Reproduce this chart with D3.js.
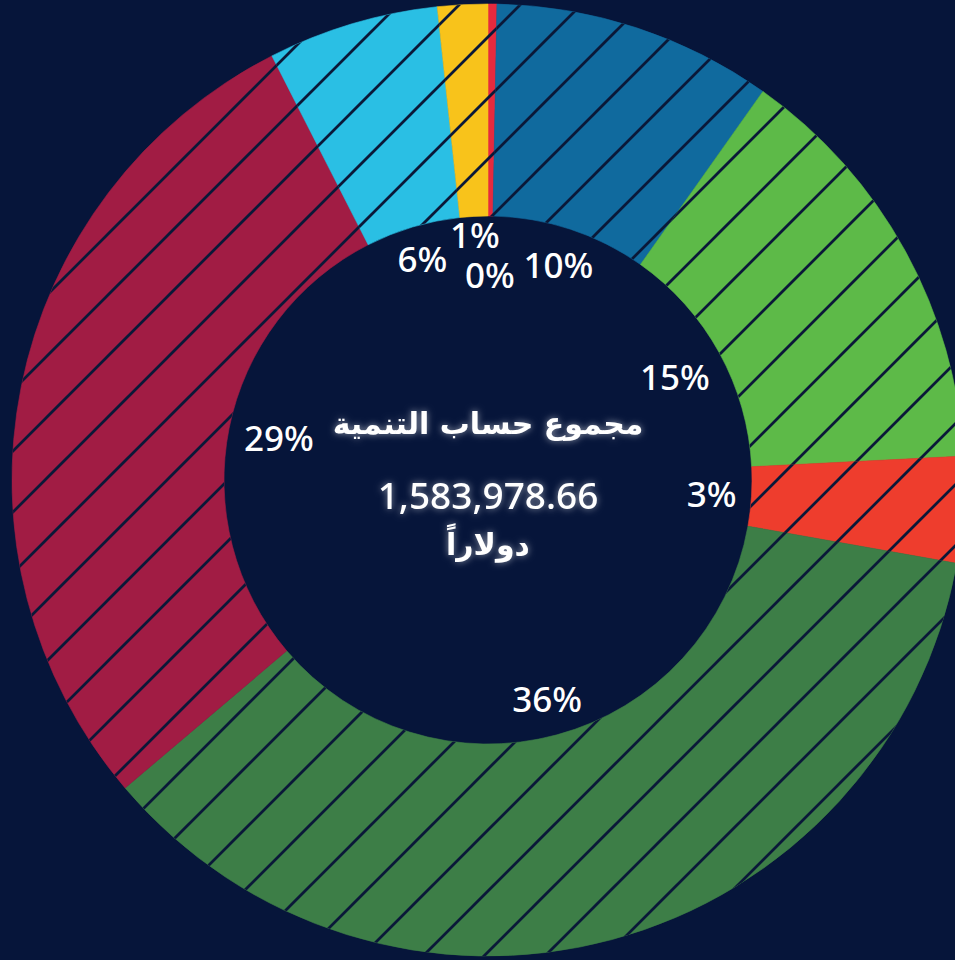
<!DOCTYPE html>
<html>
<head>
<meta charset="utf-8">
<script src="https://cdn.jsdelivr.net/npm/d3@7"></script>
<style>
  html, body { margin: 0; padding: 0; background: #06153a; overflow: hidden; }
</style>
</head>
<body>
<div id="donut-chart"></div>
<script>
// ---- data ----
const categories = ['s0', 's1', 's2', 's3', 's4', 's5', 's6', 's7'];
const shares = [0.3, 9.5, 14.4, 3.6, 36.0, 28.7, 5.8, 1.7];
const pctLabels = ['0%', '10%', '15%', '3%', '36%', '29%', '6%', '1%'];
const sliceColors = ['#e62a3e', '#106a9e', '#5dba48', '#ee3d2d', '#3d7e47', '#a11c44', '#2abfe4', '#f8c31b'];
const centerTitle = 'مجموع حساب التنمية';
const totalValue = 1583978.66;
const unitLabel = 'دولاراً';

const cfg = {
  width: 955,
  height: 960,
  cx: 488,
  cy: 480,
  outerR: 476,
  innerR: 264,
  bg: '#06153a',
  hatch: { step: 61, phase: 37, color: '#0a1838', width: 2.8 },
};

const svg = d3
  .select('#donut-chart')
  .append('svg')
  .attr('width', cfg.width)
  .attr('height', cfg.height);

svg.append('rect').attr('width', cfg.width).attr('height', cfg.height).attr('fill', cfg.bg);

const defs = svg.append('defs');

/* ---------------- hatch pattern ---------------- */
const st = cfg.hatch.step;
const localPhase = (((cfg.hatch.phase - cfg.cx - cfg.cy) % st) + st) % st;
defs
  .append('pattern')
  .attr('id', 'hatch')
  .attr('patternUnits', 'userSpaceOnUse')
  .attr('x', localPhase)
  .attr('y', 0)
  .attr('width', st)
  .attr('height', st)
  .append('path')
  .attr('d', `M0,${st}L${st},0M-5,5L5,-5M${st - 5},${st + 5}L${st + 5},${st - 5}`)
  .attr('stroke', cfg.hatch.color)
  .attr('stroke-width', cfg.hatch.width);

/* ---------------- glow filter ---------------- */
const glow = defs
  .append('filter')
  .attr('id', 'glow')
  .attr('x', '-20%')
  .attr('y', '-40%')
  .attr('width', '140%')
  .attr('height', '180%');
glow.append('feGaussianBlur').attr('in', 'SourceAlpha').attr('stdDeviation', 3.5).attr('result', 'blur');
glow.append('feFlood').attr('flood-color', '#ffffff').attr('flood-opacity', 0.55);
glow.append('feComposite').attr('in2', 'blur').attr('operator', 'in').attr('result', 'halo');
const merge = glow.append('feMerge');
merge.append('feMergeNode').attr('in', 'halo');
merge.append('feMergeNode').attr('in', 'SourceGraphic');

/* ---------------- slices ---------------- */
const g = svg.append('g').attr('transform', `translate(${cfg.cx},${cfg.cy})`);

const data = categories.map((c, i) => ({
  key: c,
  value: shares[i],
  label: pctLabels[i],
  color: sliceColors[i],
}));

const pie = d3.pie().sort(null).value((d) => d.value).startAngle(0).endAngle(2 * Math.PI);
const arcs = pie(data);
const arc = d3.arc().innerRadius(cfg.innerR).outerRadius(cfg.outerR);

g.selectAll('.slice')
  .data(arcs)
  .enter()
  .append('path')
  .attr('class', 'slice')
  .attr('d', arc)
  .attr('fill', (d) => d.data.color)
  .attr('stroke', (d) => d.data.color)
  .attr('stroke-width', 0.6);

g.selectAll('.slice-hatch')
  .data(arcs)
  .enter()
  .append('path')
  .attr('class', 'slice-hatch')
  .attr('d', arc)
  .attr('fill', 'url(#hatch)');

/* ---------------- percent labels ---------------- */
const fitR = cfg.innerR - 14;
const capHalf = 12.5;

const labels = g
  .selectAll('.pct')
  .data(arcs)
  .enter()
  .append('text')
  .attr('class', 'pct')
  .attr('text-anchor', 'middle')
  .attr('font-family', "'Noto Sans', 'DejaVu Sans', sans-serif")
  .attr('font-weight', 500)
  .attr('font-size', 35)
  .attr('fill', '#ffffff')
  .text((d) => d.data.label);

const boxes = [];
labels.each(function (d) {
  const w = this.getComputedTextLength();
  const a = w / 2;
  const b = capHalf;
  const ang = (d.startAngle + d.endAngle) / 2;
  const s = Math.sin(ang);
  const c = Math.cos(ang);
  const p = a * Math.abs(s) + b * Math.abs(c);
  const r = -p + Math.sqrt(p * p - (a * a + b * b) + fitR * fitR);
  boxes.push({ node: this, a, b, ang, r, v: d.data.value });
});

function pos(bx) {
  return [bx.r * Math.sin(bx.ang), -bx.r * Math.cos(bx.ang)];
}
function overlaps(p, q) {
  const [x1, y1] = pos(p);
  const [x2, y2] = pos(q);
  return Math.abs(x1 - x2) < p.a + q.a + 2 && Math.abs(y1 - y2) < p.b + q.b + 14;
}

// push colliding labels apart: smaller share goes inward
for (let iter = 0; iter < 120; iter++) {
  let moved = false;
  for (let i = 0; i < boxes.length; i++) {
    for (let j = i + 1; j < boxes.length; j++) {
      if (overlaps(boxes[i], boxes[j])) {
        const small = boxes[i].v < boxes[j].v ? boxes[i] : boxes[j];
        const big = small === boxes[i] ? boxes[j] : boxes[i];
        small.r -= 1;
        big.r += 0.3;
        moved = true;
      }
    }
  }
  if (!moved) break;
}

boxes.forEach((bx) => {
  const [x, y] = pos(bx);
  d3.select(bx.node).attr('x', x).attr('y', y + capHalf);
});

/* ---------------- center text ---------------- */
const center = g.append('g').attr('filter', 'url(#glow)').attr('fill', '#ffffff').attr('text-anchor', 'middle');

center
  .append('text')
  .attr('y', -46)
  .attr('font-family', "'DejaVu Sans', sans-serif")
  .attr('font-weight', 700)
  .attr('font-size', 30)
  .attr('direction', 'rtl')
  .text(centerTitle);

center
  .append('text')
  .attr('y', 29)
  .attr('font-family', "'Noto Sans', sans-serif")
  .attr('font-weight', 500)
  .attr('font-size', 37)
  .text(d3.format(',.2f')(totalValue));

center
  .append('text')
  .attr('y', 75)
  .attr('font-family', "'DejaVu Sans', sans-serif")
  .attr('font-weight', 700)
  .attr('font-size', 30)
  .attr('direction', 'rtl')
  .text(unitLabel);
</script>
</body>
</html>
